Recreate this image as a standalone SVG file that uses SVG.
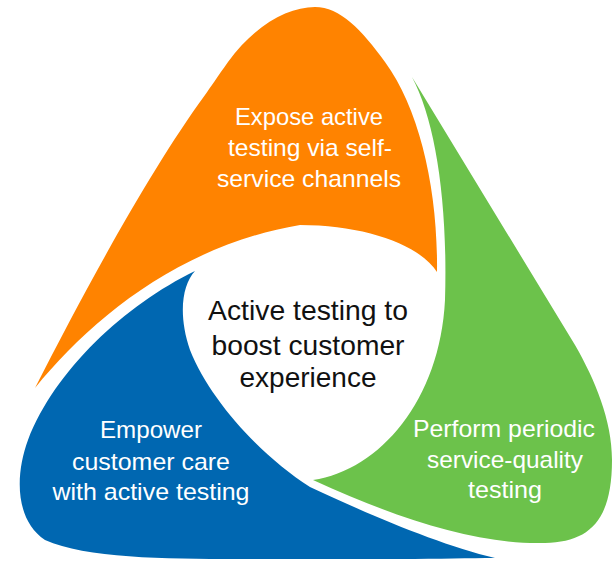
<svg xmlns="http://www.w3.org/2000/svg" width="613" height="562" viewBox="0 0 613 562">
<style>
.lbl{font-family:"Liberation Sans",Arial,sans-serif;font-size:24px;fill:#ffffff;text-anchor:middle}
.ctr{font-family:"Liberation Sans",Arial,sans-serif;font-size:28px;fill:#111111;text-anchor:middle}
</style>
<rect width="613" height="562" fill="#ffffff"/>
<g id="connectors"/>
<g id="node-orange">
<path fill="#FF8300" d="M 437 272 C 438 190, 420 110, 385 62 C 362 30, 340 7, 315 7 C 288 7, 255 25, 228 62 C 218 76, 210 88, 205 95 C 150 170, 85 290, 35 388 C 90 320, 180 245, 300 225 C 365 225, 420 245, 437 272 Z"/>
<text class="lbl" x="309" y="125" textLength="148" lengthAdjust="spacingAndGlyphs">Expose active</text>
<text class="lbl" x="310" y="156" textLength="164" lengthAdjust="spacingAndGlyphs">testing via self-</text>
<text class="lbl" x="309" y="187" textLength="184" lengthAdjust="spacingAndGlyphs">service channels</text>
</g>
<g id="node-blue">
<path fill="#0067B1" d="M 195 271 C 125 305, 55 370, 28 440 C 15 475, 15 520, 45 540 C 90 560, 180 559, 260 559 L 400 559 C 440 559, 470 558, 495 558 C 440 545, 370 515, 310 487 C 260 455, 210 400, 190 350 C 178 315, 182 285, 195 271 Z"/>
<text class="lbl" x="151" y="438" textLength="102" lengthAdjust="spacingAndGlyphs">Empower</text>
<text class="lbl" x="151" y="470" textLength="158" lengthAdjust="spacingAndGlyphs">customer care</text>
<text class="lbl" x="151" y="500" textLength="197" lengthAdjust="spacingAndGlyphs">with active testing</text>
</g>
<g id="node-green">
<path fill="#6CC24B" d="M 412 77 L 575 345 C 595 380, 612 420, 612 460 C 612 520, 590 542, 545 543 C 480 545, 400 520, 313 480 C 380 470, 440 400, 445 300 C 448 200, 435 120, 412 77 Z"/>
<text class="lbl" x="504" y="437" textLength="182" lengthAdjust="spacingAndGlyphs">Perform periodic</text>
<text class="lbl" x="505" y="468" textLength="156" lengthAdjust="spacingAndGlyphs">service-quality</text>
<text class="lbl" x="505" y="498" textLength="74" lengthAdjust="spacingAndGlyphs">testing</text>
</g>
<g id="node-center">
<text class="ctr" x="308" y="320" textLength="200" lengthAdjust="spacingAndGlyphs">Active testing to</text>
<text class="ctr" x="308" y="355" textLength="193" lengthAdjust="spacingAndGlyphs">boost customer</text>
<text class="ctr" x="308" y="387" textLength="137" lengthAdjust="spacingAndGlyphs">experience</text>
</g>
</svg>
